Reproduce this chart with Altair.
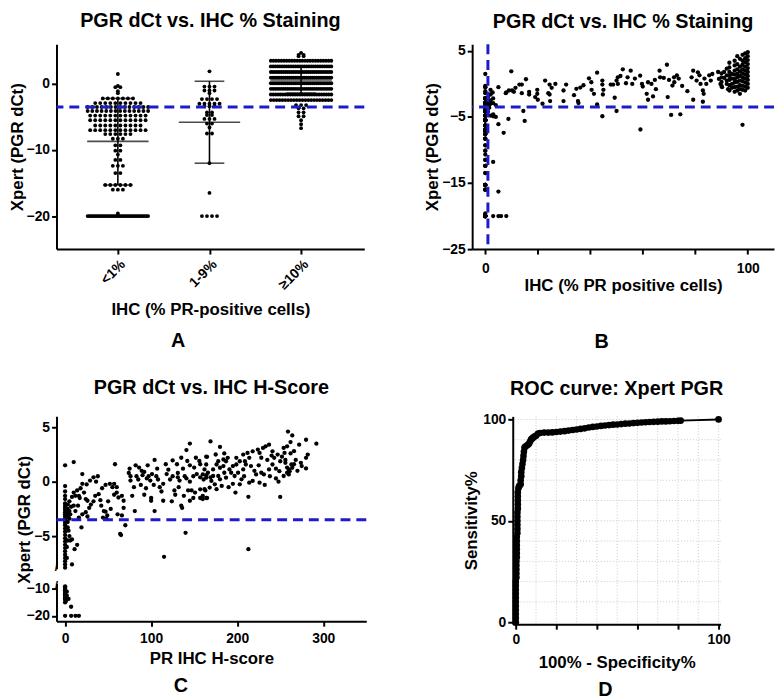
import altair as alt
import pandas as pd

FONT = "Liberation Sans"
BLUE = "#1c1cc8"
CUTOFF = -3.5          # dCt cut-off (dashed blue line)
PCT_CUTOFF = 1         # IHC 1% cut-off (panel B vertical line)

# ---------------- Panel A : dCt per IHC group (row value, number of dots) ----------------
a_groups = ["<1%", "1-9%", "≥10%"]
a_lt1_vals = [1.5, -0.3, -0.5, -1.1, -1.4, -2.2, -2.9, -3.5, -4.1, -4.8, -5.5, -6.3, -7.0, -7.6,
              -8.3, -9.3, -10.1, -10.7, -11.5, -12.4, -13.5, -15.3, -16.0, -19.6, -20.0]
a_lt1_counts = [1, 1, 2, 1, 1, 7, 10, 14, 14, 12, 12, 10, 12, 6,
                3, 2, 2, 1, 2, 3, 2, 6, 3, 1, 40]
a_1to9_vals = [1.9, -0.4, -1.0, -1.4, -2.3, -3.0, -3.4, -4.3, -4.7, -5.3, -6.0, -6.6, -7.5,
               -12.0, -16.5, -20.0]
a_1to9_counts = [1, 3, 3, 1, 4, 5, 3, 2, 2, 3, 2, 1, 2, 1, 1, 4]
a_ge10_vals = [4.7, 4.4, 4.2, 3.5, 2.65, 1.8, 0.95, 0.1, -0.75, -1.6, -2.45,
               -3.2, -3.7, -4.3, -4.9, -5.5, -6.1, -6.7]
a_ge10_counts = [1, 2, 2, 24, 28, 30, 30, 30, 30, 26, 22, 3, 2, 2, 2, 1, 1, 1]
a_mean = [-8.7, -5.8, 0.6]
a_sd_hi = [-2.2, 0.4, 2.6]
a_sd_lo = [-15.3, -12.0, -1.4]

# ---------------- Panel B : % positive cells vs dCt ----------------
b_pairs = [
    (1, -2.0), (1, -2.4), (1, -2.9), (1, -3.3), (1, -3.7), (1, -4.2), (1.5, -3.1), (1.5, -3.6),
    (2, -0.9), (2, -1.6), (2, -2.5), (2, -3.0), (2, -4.8), (3, -2.2), (3, -2.9), (3, -4.6),
    (3, -4.9), (3, -11.8), (3, -20), (4, -3.2), (4, -5.0), (5, -0.5), (5, -6.1), (5, -16.3),
    (5, -20), (6, -20), (7, -7.4), (8, -1.3), (8, -20), (8.8, -5.3), (9, -1.0), (7.8, -1.4),
    (2.8, -1.3),
    (9.9, 1.9), (10.2, -1.0), (10.9, -1.2), (11.5, -0.6), (13, -0.1), (13.9, -0.1), (13.9, -1.4),
    (14.5, -4.1), (15, -5.6), (15.5, 0.7), (16.7, -1.2), (16.7, -1.6), (19, -2.0), (19.8, -0.9),
    (19.8, -1.5), (20, -2.4), (21.8, -3.0), (22.8, 0.5), (24, -1.4), (24.5, -1.6), (24.5, -0.1),
    (24.7, -2.6), (25.3, -0.6), (26.7, 0.0), (29.8, -1.0), (29.8, -2.6), (30.8, -0.1), (33.8, -1.7),
    (34.7, -0.75), (35.3, -2.6), (35.5, -2.9), (36.2, -0.55), (37.4, -0.2), (39.5, 0.85),
    (40.4, 0.25), (40.5, -0.9), (41.4, -1.5), (42.6, 1.7), (42.6, -3.1), (44.6, 0.5), (44.6, -0.1),
    (45, -0.9), (44.8, -1.6), (44.6, -4.9), (47.8, -0.1), (48.7, -0.1), (49.3, -2.1), (50, -4.1),
    (50.5, 1.0), (51.5, 1.2), (52.4, 2.2),
    (55.4, 2.0), (50, 0.5), (50.5, 0.0), (53.6, 0.1), (54.2, 1.0), (56, 0.0), (59, 1.25), (59.7, 0.0),
    (61.5, -1.5), (62, -2.4), (63.9, -1.9), (62, 0.25), (63.3, 0.0), (64.6, 0.6), (66.4, 2.0),
    (69.2, 2.9), (66.6, 1.0), (68, 0.9), (70, 0.6), (71.9, 1.0), (73, 1.3), (73.7, 0.8), (69.5, -2.0),
    (71.3, -0.25), (72, 0.25), (74.3, -4.6), (79.2, 2.0), (81, 1.75), (78.6, 1.0), (80.5, 0.5),
    (81.6, 1.3), (82, 0.0), (83.5, 0.8), (84.2, 0.0), (85.3, 1.3), (85.9, 0.5), (79.2, -2.4),
    (82.9, -1.0), (83.2, -1.5), (82.9, -2.7), (86.5, 1.5), (88.7, 1.8), (89, 0.75), (89.6, 0.0),
    (90.2, -0.5), (92, 0.0), (92.5, -0.8), (59.1, -6.9), (98, -6.2), (70.8, -4.7), (60, -0.4),
    (65, -0.8), (75, -0.3), (77, -1.1), (57, 0.8),
    (90, 1.6), (90, 1.0), (90, 0.3), (90, -0.3), (91, 1.8), (91, 0.9), (92, 2.3), (92, 1.3), (92, 0.5),
    (93, 3.2), (93, 2.5), (93, 1.8), (93, 1.2), (93, 0.6), (93, -0.2), (93, -1.0),
    (94, 1.5), (94, 0.8), (94, 0.0), (94, -0.6),
    (95, 3.5), (95, 2.8), (95, 2.0), (95, 1.4), (95, 0.7), (95, 0.2), (95, -0.5), (95, -1.2),
    (96, 4.2), (96, 3.0), (96, 2.2), (96, 1.5), (96, 1.0), (96, 0.3), (96, -0.4), (96, -1.0),
    (97, 3.8), (97, 2.6), (97, 1.9), (97, 1.2), (97, 0.5), (97, -0.2), (97, -0.8), (97, -1.5),
    (98, 4.4), (98, 3.5), (98, 2.9), (98, 2.2), (98, 1.6), (98, 1.0), (98, 0.4), (98, -0.3), (98, -0.9),
    (99, 4.6), (99, 3.9), (99, 3.3), (99, 2.6), (99, 2.0), (99, 1.4), (99, 0.8), (99, 0.2), (99, -0.4),
    (99, -1.0), (100, 4.8), (100, 4.2), (100, 3.6), (100, 3.0), (100, 2.4), (100, 1.8), (100, 1.2),
    (100, 0.6), (100, 0.0), (100, -0.6),
]

# ---------------- Panel C : H-score vs dCt ----------------
c_zero_dct = [1.5, -0.4, -0.9, -1.3, -1.6, -2.0, -2.2, -2.4, -2.6, -2.8, -3.0, -3.2, -3.4, -3.6,
              -3.8, -4.0, -4.3, -4.6, -4.9, -5.2, -5.5, -5.8, -6.1, -6.4, -6.7, -7.0, -7.3, -7.6,
              -7.9, -9.0, -9.5, -10.0, -10.5, -11.0, -11.5, -12.0, -12.5, -13.0, -13.5, -14.0,
              -15.0, -20.0]
c_pairs = [
    (3, -2.1), (3, -2.5), (3, -2.9), (3, -3.3), (3, -3.7), (4, -3.1), (5, -2.7), (5, -3.4), (6, -3.0),
    (3, -4.2), (4, -4.5), (5, -5.0), (3, -5.4), (6, -5.4), (8, -5.3), (11, -6.2), (14, -5.8),
    (8, -7.6), (19, -4.2), (2, -6.0), (2, -7.0), (4, -13.7), (7, -16.6), (7, -20), (12, -20),
    (16, -20), (2, -11.0), (2, -12.5), (1, -14.5),
    (10, 1.8), (20, 0.7), (10, -1.0), (12, -1.3), (16, -1.3), (17, -1.5), (14, -0.8), (18, -0.6),
    (22, -1.0), (24, -1.6), (26, -1.75), (33, -1.8), (30, -2.1), (20, -0.2), (25, -0.25), (29, 0.1),
    (33, 0.4), (38, 0.5), (10, -2.2), (15, -2.2), (24, -2.8), (39, -1.15), (41, -1.7), (42, -2.2),
    (45, -2.7), (47, -2.75), (49, -3.1), (47, -0.3), (52, -0.2), (55, -0.5), (57, -0.2), (60, -0.5),
    (58, 1.6), (60, -1.0), (62, -1.45), (66, -1.3), (68, -1.75), (68, -2.4), (70, -4.0), (61, -3.0),
    (66, -3.1), (64, -4.8), (65, -4.9), (5, -1.8), (7, -2.3), (12, -2.7), (8, -1.4), (28, -2.4),
    (35, -1.3), (36, 0.0), (43, -0.6), (50, -1.8), (53, -2.5), (48, -3.4), (57, -1.2), (44, -3.3),
    (20, -3.0), (16, -3.3), (26, -3.2),
    (75, 1.2), (74, 0.8), (76, 0.5), (76, 0.1), (80, -0.5), (81, -2.7), (83, 0.5), (85, 0.2),
    (89, 1.0), (90, 0.6), (92, 0.9), (95, 0.3), (97, 0.5), (99, 0.1), (101, 0.7), (104, 2.0),
    (103, -0.3), (106, 0.5), (108, 0.2), (110, -0.5), (112, -0.9), (114, -0.2), (100, -1.75),
    (100, -1.5), (104, -2.7), (114, -1.75), (120, 1.1), (125, 1.95), (122, 0.2), (130, 1.6),
    (131, 0.8), (132, -0.5), (131, 0.4), (133, 0.1), (135, 2.2), (141, 2.9), (145, 3.5), (135, -2.2),
    (136, -2.4), (139, 0.5), (141, 0.3), (145, 0.0), (149, 0.5), (153, 0.7), (157, 0.4), (161, 0.2),
    (164, 0.6), (169, 0.4), (143, -0.8), (147, -0.8), (151, -1.0), (157, -0.7), (163, -0.8),
    (145, -1.75), (149, -1.5), (157, -1.5), (160, -1.6), (165, -1.5), (156, 1.9), (157, 1.6),
    (164, 2.3), (169, 3.7), (150, 1.3), (145, 1.5), (140, -4.7), (115, -6.9), (86, 1.3), (88, -0.3),
    (94, -0.6), (118, 0.7), (127, -0.8), (125, 0.5), (137, 1.2), (128, -1.2), (96, 1.5), (82, 1.5),
    (78, -1.3), (92, -1.2), (107, 1.2), (117, 1.6), (124, -1.8), (142, 1.9), (152, 2.2), (138, -1.3),
    (180, 3.19), (165, 2.28), (164, 1.58), (162, 1.13), (160, 0.67), (166, 0.82), (172, 1.13),
    (176, 1.58), (180, 1.28), (184, 1.43), (187, 1.88), (189, 2.19), (184, 2.04), (178, 1.88),
    (191, 1.13), (195, 1.43), (193, 0.82), (199, 1.58), (164, 0.37), (170, 0.07), (174, -0.24),
    (168, -0.54), (176, -0.69), (162, -0.69), (182, -0.39), (180, 0.22), (178, 0.52), (187, 0.37),
    (185, 0.82), (172, 0.52), (160, -1.3), (164, -1.5), (198, -1.0), (203, -0.24), (213, -1.39),
    (214, -0.09), (218, 0.07), (226, -0.09), (228, 0.82), (222, 0.67), (231, 0.67), (237, 1.13),
    (241, 1.58), (243, 2.19), (247, 2.49), (250, 1.88), (256, 1.73), (258, 0.82), (260, 1.13),
    (263, 1.58), (254, 0.52), (249, 0.97), (207, 2.49), (212, 2.64), (218, 2.79), (224, 2.95),
    (230, 3.1), (233, 3.25), (237, 3.4), (241, 2.79), (226, 2.64), (214, 2.19), (209, 1.88),
    (199, 2.19), (203, 1.88), (210, 1.58), (216, 1.43), (207, 1.13), (201, 0.82), (197, 0.52),
    (205, 0.22), (250, -1.4), (259, 4.6), (264, 4.25), (272, 3.4), (280, 3.85), (292, 3.49),
    (258, 3.25), (262, 3.64), (254, 3.1), (255, 2.64), (274, 1.73), (275, 1.43), (280, 1.22),
    (282, 2.49), (280, 2.19), (260, 0.67), (261, 0.97), (264, 1.28), (248, 0.0), (213, -6.2),
    (220, 1.0), (225, 1.5), (235, 2.0), (245, 1.2), (252, 2.3), (268, 2.0), (270, 1.0), (266, 2.8),
    (245, 0.3), (238, 0.5), (232, -0.3), (190, -0.5), (195, -0.2), (208, 0.5), (185, 2.6), (175, 2.5),
    (228, 2.2), (240, 2.4), (256, 2.0), (262, 2.6), (258, 1.3), (266, 1.6),
]
C_BREAK = -8
C_XDOM = [-10, 350]

# ---------------- Panel D : ROC curve ----------------
roc_fpr = [0, 0, 0, 0, 0, 0, 0, 0, 0, 0, 0, 0.3, 0.3, 0.3, 0.3, 0.3, 0.5, 0.5, 0.5, 0.5, 0.5, 0.5,
           0.8, 0.8, 0.8, 0.8, 0.8, 0.8, 1.0, 1.0, 1.0, 1.0, 1.0, 1.3, 1.6, 2.0, 2.4, 2.4, 2.7, 2.7,
           3.0, 3.3, 3.6, 3.8, 4.0, 4.3, 4.6, 5.3, 6.0, 6.5, 7.0, 7.5, 8.0, 8.5, 9.2, 10, 11, 12, 14,
           16, 18, 20, 22, 24, 26, 28, 30, 32, 34, 36, 38, 40, 42, 44, 46, 48, 50, 52, 54, 56, 58,
           60, 62, 64, 66, 68, 70, 72, 74, 76, 78, 80, 81.3, 100]
roc_tpr = [0, 2, 4, 6, 8, 10, 12, 14, 16, 18, 20, 22, 24, 26, 28, 30, 32, 34, 36, 38, 40, 42,
           44, 46, 48, 50, 52, 54, 56, 58, 60, 62, 64, 66, 67, 67.5, 68, 70, 72, 74,
           76, 78, 80, 82, 84, 86, 86.5, 87, 87.5, 88, 89, 90, 90.5, 91, 91.5, 92, 93, 93.3, 93.5,
           93.5, 93.6, 93.8, 94, 94.2, 94.5, 94.8, 95, 95.3, 95.6, 96, 96.3, 96.5, 96.8, 97, 97.2,
           97.4, 97.5, 97.7, 97.9, 98, 98.2, 98.3, 98.5, 98.6, 98.7, 98.8, 98.9, 99, 99, 99.1, 99.2,
           99.3, 99.4, 100]
d_grid = [10, 20, 30, 40, 50, 60, 70, 80, 90, 100]


# ---------------- helpers ----------------
def swarm(vals, counts, center, step=0.055, half=0.33):
    xs, ys = [], []
    for v, n in zip(vals, counts):
        s = step if n <= 1 else min(step, 2 * half / (n - 1))
        for k in range(n):
            xs.append(center + (k - (n - 1) / 2) * s)
            ys.append(v)
    return xs, ys


def expand(vals, counts):
    out = []
    for v, n in zip(vals, counts):
        out += [v] * n
    return out


def ptitle(text, offset):
    return alt.TitleParams(text, font=FONT, fontSize=20, fontWeight="bold", color="black",
                           anchor="middle", offset=offset)


def letter(text, offset, dx=0):
    return alt.TitleParams(text, orient="bottom", font=FONT, fontSize=20, fontWeight="bold",
                           color="black", anchor="middle", offset=offset, dx=dx)


def dashed(df):
    return alt.Chart(df).mark_rule(color=BLUE, strokeWidth=3, strokeDash=[10, 6])


# ---------------- Panel A ----------------
rows = []
for gi, (vals, cnts) in enumerate([(a_lt1_vals, a_lt1_counts), (a_1to9_vals, a_1to9_counts),
                                   (a_ge10_vals, a_ge10_counts)]):
    xs, ys = swarm(vals, cnts, gi)
    rows += [{"x": x, "y": y} for x, y in zip(xs, ys)]
dfA = pd.DataFrame(rows)
dfAs = pd.DataFrame({"x": [0, 1, 2], "y": a_mean, "hi": a_sd_hi, "lo": a_sd_lo})

xA = alt.Scale(domain=[-0.67, 2.69], nice=False, zero=False)
yA = alt.Scale(domain=[-25, 6], nice=False, zero=False)
lab = " : ".join(f"datum.value == {i} ? '{g}'" for i, g in enumerate(a_groups[:-1])) + f" : '{a_groups[-1]}'"

a_pts = alt.Chart(dfA).mark_circle(size=15, color="black", opacity=1).encode(
    x=alt.X("x:Q", scale=xA, axis=alt.Axis(values=[0, 1, 2], labelExpr=lab, labelAngle=-45,
                                           labelPadding=3, titlePadding=10,
                                           title="IHC (% PR-positive cells)")),
    y=alt.Y("y:Q", scale=yA, axis=alt.Axis(values=[0, -10, -20], title="Xpert (PGR dCt)",
                                           labelPadding=2, titlePadding=0)))
a_mean_t = alt.Chart(dfAs).mark_tick(orient="horizontal", size=62, thickness=1.6, color="black").encode(
    x="x:Q", y="y:Q")
a_hi_t = alt.Chart(dfAs).mark_tick(orient="horizontal", size=30, thickness=1.6, color="black").encode(
    x="x:Q", y="hi:Q")
a_lo_t = alt.Chart(dfAs).mark_tick(orient="horizontal", size=30, thickness=1.6, color="black").encode(
    x="x:Q", y="lo:Q")
a_sd = alt.Chart(dfAs).mark_rule(color="black", strokeWidth=1.6).encode(x="x:Q", y="lo:Q", y2="hi:Q")
a_cut = dashed(pd.DataFrame({"y": [CUTOFF]})).encode(y="y:Q")
panelA = alt.layer(a_pts, a_sd, a_mean_t, a_hi_t, a_lo_t, a_cut).properties(
    width=311, height=207, title=ptitle("PGR dCt vs. IHC % Staining", 13))

# ---------------- Panel B ----------------
lt1_all = expand(a_lt1_vals, a_lt1_counts)
dfB = pd.DataFrame({"x": [0] * len(lt1_all) + [p[0] for p in b_pairs],
                    "y": lt1_all + [p[1] for p in b_pairs]})
xB = alt.Scale(domain=[-5, 110], nice=False, zero=False)
yB = alt.Scale(domain=[-25, 6], nice=False, zero=False)
b_pts = alt.Chart(dfB).mark_circle(size=19, color="black", opacity=1).encode(
    x=alt.X("x:Q", scale=xB, axis=alt.Axis(values=list(range(0, 111, 10)),
                                           labelExpr="datum.value % 50 == 0 ? datum.label : ''",
                                           labelPadding=8, titlePadding=2,
                                           title="IHC (% PR positive cells)")),
    y=alt.Y("y:Q", scale=yB, axis=alt.Axis(values=[5, -5, -15, -25], title="Xpert (PGR dCt)",
                                           labelPadding=2, titlePadding=0)))
b_h = dashed(pd.DataFrame({"y": [CUTOFF]})).encode(y="y:Q")
b_v = dashed(pd.DataFrame({"x": [PCT_CUTOFF]})).encode(x="x:Q")
panelB = alt.layer(b_pts, b_h, b_v).properties(
    width=305, height=207, title=ptitle("PGR dCt vs. IHC % Staining", 11))

# ---------------- Panel C ----------------
dfC = pd.DataFrame({"x": [0] * len(c_zero_dct) + [p[0] for p in c_pairs],
                    "y": c_zero_dct + [p[1] for p in c_pairs]})
dfBreak = pd.DataFrame({"x": [C_XDOM[0]], "y": [C_BREAK], "t": ["/"]})
xC = alt.Scale(domain=C_XDOM, nice=False, zero=False)
yCu = alt.Scale(domain=[C_BREAK, 6], nice=False, zero=False)
yCl = alt.Scale(domain=[-22, C_BREAK], nice=False, zero=False)
c_up_pts = alt.Chart(dfC).transform_filter(f"datum.y >= {C_BREAK}").mark_circle(
    size=19, color="black", opacity=1).encode(
    x=alt.X("x:Q", scale=xC, axis=None),
    y=alt.Y("y:Q", scale=yCu,
            axis=alt.Axis(values=[5, 0, -5], title="Xpert (PGR dCt)", titleY=104,
                          labelPadding=2, titlePadding=0)))
c_cut = dashed(pd.DataFrame({"y": [CUTOFF]})).encode(y="y:Q")
c_brk_u = alt.Chart(dfBreak).mark_text(font=FONT, fontSize=12, fontWeight="bold", color="black",
                                       baseline="middle", align="center", dy=-2).encode(
    x=alt.X("x:Q", scale=xC), y=alt.Y("y:Q", scale=yCu), text="t:N")
c_upper = alt.layer(c_up_pts, c_cut, c_brk_u).properties(
    width=313, height=154, title=ptitle("PGR dCt vs. IHC H-Score", 19))
c_low_pts = alt.Chart(dfC).transform_filter(f"datum.y < {C_BREAK}").mark_circle(
    size=19, color="black", opacity=1).encode(
    x=alt.X("x:Q", scale=xC, axis=alt.Axis(values=[0, 100, 200, 300], labelPadding=5,
                                           titlePadding=6, title="PR IHC H-score")),
    y=alt.Y("y:Q", scale=yCl, axis=alt.Axis(values=[-10, -20], title=None, labelPadding=2)))
c_brk_l = alt.Chart(dfBreak).mark_text(font=FONT, fontSize=12, fontWeight="bold", color="black",
                                       baseline="middle", align="center", dy=2).encode(
    x=alt.X("x:Q", scale=xC), y=alt.Y("y:Q", scale=yCl), text="t:N")
c_lower = alt.layer(c_low_pts, c_brk_l).properties(width=313, height=38)

# ---------------- Panel D ----------------
dfD = pd.DataFrame({"i": list(range(len(roc_fpr))), "x": roc_fpr, "y": roc_tpr})
xD = alt.Scale(domain=[-1.5, 101], nice=False, zero=False)
yD = alt.Scale(domain=[-1, 101.5], nice=False, zero=False)
dfG = pd.DataFrame({"g": d_grid})
d_gx = alt.Chart(dfG).mark_rule(color="#c8c8c8", strokeWidth=1, strokeDash=[1, 2]).encode(
    x=alt.X("g:Q", scale=xD))
d_gy = alt.Chart(dfG).mark_rule(color="#c8c8c8", strokeWidth=1, strokeDash=[1, 2]).encode(
    y=alt.Y("g:Q", scale=yD))
d_line = alt.Chart(dfD).mark_line(color="black", strokeWidth=2,
                                  point=alt.OverlayMarkDef(filled=True, size=45, color="black")).encode(
    x=alt.X("x:Q", scale=xD, axis=alt.Axis(values=list(range(0, 101, 10)),
                                           labelExpr="datum.value % 50 == 0 ? datum.label : ''",
                                           labelPadding=4, titlePadding=8,
                                           title="100% - Specificity%")),
    y=alt.Y("y:Q", scale=yD, axis=alt.Axis(values=[0, 50, 100], title="Sensitivity%",
                                           labelPadding=2, titlePadding=2)),
    order=alt.Order("i:Q"))
panelD = alt.layer(d_gx, d_gy, d_line).properties(
    width=210, height=210, title=ptitle("ROC curve: Xpert PGR", 14))

# ---------------- assemble ----------------
wA = alt.vconcat(panelA, title=letter("A", 14, -9))
wB = alt.vconcat(panelB, title=letter("B", 39, 2))
wC = alt.vconcat(c_upper, c_lower, spacing=15, bounds="flush", title=letter("C", 10, -11))
wD = alt.vconcat(panelD, title=letter("D", 10, 9))

chart = alt.vconcat(
    alt.hconcat(wA, wB, spacing=58),
    alt.hconcat(wC, wD, spacing=95),
    spacing=26,
).configure_axis(
    domainColor="black", domainWidth=2, tickColor="black", tickWidth=2, tickSize=5,
    labelFont=FONT, labelFontSize=14, labelFontWeight="bold", labelColor="black",
    titleFont=FONT, titleFontSize=17, titleFontWeight="bold", titleColor="black",
    grid=False, labelPadding=3, titlePadding=2, labelFlush=False, labelOverlap=False,
).configure_view(stroke=None).properties(padding=0)

chart.save("out.html", embed_options={"renderer": "svg", "actions": False})
